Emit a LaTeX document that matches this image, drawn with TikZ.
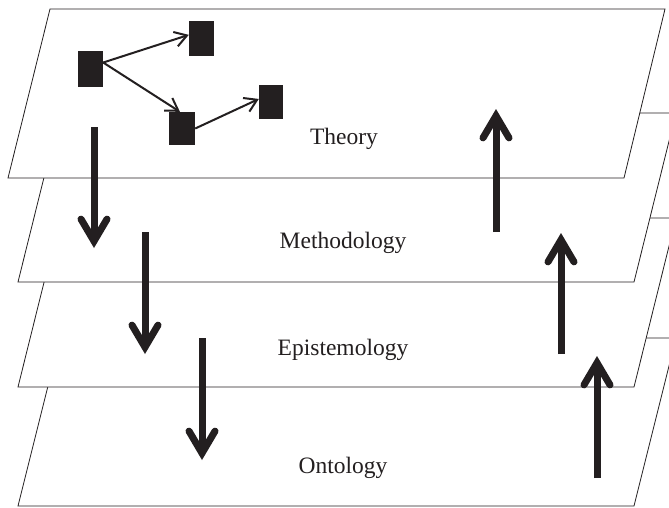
\documentclass[tikz,border=0pt]{standalone}
\usepackage{fontspec}
\setmainfont{Liberation Serif}
\usetikzlibrary{arrows.meta}
\definecolor{ink}{HTML}{231F20}
\begin{document}
\begin{tikzpicture}[x=1pt,y=-1pt,
  layerplane/.style={draw=ink, line width=0.8pt, fill=white, line join=miter},
  layertext/.style={font=\fontsize{23.5}{28}\selectfont, text=ink, anchor=base, inner sep=0pt},
  boxnode/.style={fill=ink, draw=none, inner sep=0pt},
  linkarrow/.style={draw=ink, line width=2pt, -{Straight Barb[length=12pt,width=15pt]}},
  flowarrow/.style={draw=ink, line width=7pt, -{Straight Barb[length=22pt,width=26pt,line cap=round]}}
]
\clip (0,0) rectangle (669,507);
\fill[white] (0,0) rectangle (669,507);

% stacked layers, drawn from the bottom one up so each hides the one below
\draw[layerplane] (60,338) -- (676,338) -- (634,506) -- (18,506) -- cycle;
\draw[layerplane] (60,218) -- (676,218) -- (634,387) -- (18,387) -- cycle;
\draw[layerplane] (60,113) -- (676,113) -- (634,282) -- (18,282) -- cycle;
\draw[layerplane] (50,9) -- (665,9) -- (624,178) -- (8,178) -- cycle;

% layer names
\node[layertext] (theory) at (344,144) {Theory};
\node[layertext] (method) at (343,248) {Methodology};
\node[layertext] (episte) at (343,355) {Epistemology};
\node[layertext] (ontol)  at (343,473) {Ontology};

% small graph on the theory layer
\node[boxnode, minimum width=25pt, minimum height=36pt] (A) at (90.5,69) {};
\node[boxnode, minimum width=25pt, minimum height=35pt] (B) at (201.5,38.5) {};
\node[boxnode, minimum width=26pt, minimum height=33pt] (C) at (182,128.5) {};
\node[boxnode, minimum width=24pt, minimum height=34pt] (D) at (271,102) {};
\draw[linkarrow] (A.27) -- (B.164);
\draw[linkarrow] (A.27) -- (C.97);
\draw[linkarrow] (C.east) -- (D.166);

% downward flow
\coordinate (d1s) at (94,127);  \coordinate (d1e) at (94,248);
\coordinate (d2s) at (145,232); \coordinate (d2e) at (145,354);
\coordinate (d3s) at (202,338); \coordinate (d3e) at (202,460);
\draw[flowarrow] (d1s) -- (d1e);
\draw[flowarrow] (d2s) -- (d2e);
\draw[flowarrow] (d3s) -- (d3e);

% upward flow
\coordinate (u1s) at (496,232); \coordinate (u1e) at (496,109);
\coordinate (u2s) at (561,354); \coordinate (u2e) at (561,233);
\coordinate (u3s) at (597,478); \coordinate (u3e) at (597,356);
\draw[flowarrow] (u1s) -- (u1e);
\draw[flowarrow] (u2s) -- (u2e);
\draw[flowarrow] (u3s) -- (u3e);
\end{tikzpicture}
\end{document}
